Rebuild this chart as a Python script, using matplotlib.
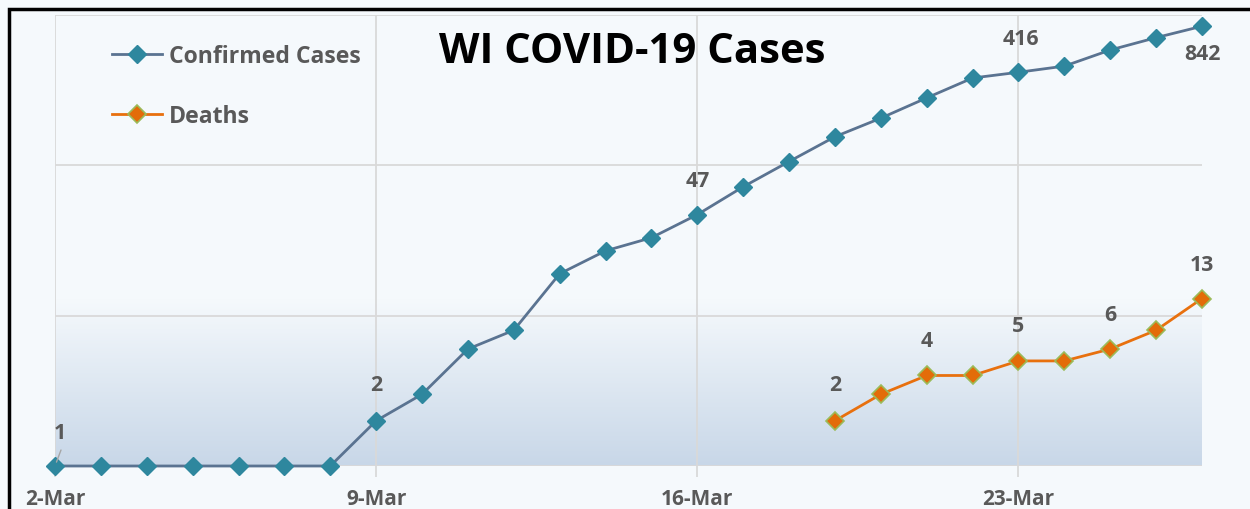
import matplotlib
matplotlib.use("Agg")
import matplotlib.pyplot as plt
import numpy as np
import pandas as pd
from matplotlib.lines import Line2D
from matplotlib.patches import Rectangle
from matplotlib.colors import LinearSegmentedColormap

plt.rcParams['font.family'] = ['Open Sans', 'DejaVu Sans']

# ---- data ----
case_dates = ['2020-03-02', '2020-03-03', '2020-03-04', '2020-03-05', '2020-03-06',
              '2020-03-07', '2020-03-08', '2020-03-09', '2020-03-10', '2020-03-11',
              '2020-03-12', '2020-03-13', '2020-03-14', '2020-03-15', '2020-03-16',
              '2020-03-17', '2020-03-18', '2020-03-19', '2020-03-20', '2020-03-21',
              '2020-03-22', '2020-03-23', '2020-03-24', '2020-03-25', '2020-03-26',
              '2020-03-27']
confirmed = [1, 1, 1, 1, 1, 1, 1, 2, 3, 6, 8, 19, 27, 33, 47, 72, 106, 155,
             206, 281, 381, 416, 457, 585, 707, 842]
death_dates = ['2020-03-19', '2020-03-20', '2020-03-21', '2020-03-22', '2020-03-23',
               '2020-03-24', '2020-03-25', '2020-03-26', '2020-03-27']
deaths = [2, 3, 4, 4, 5, 5, 6, 8, 13]

tick_dates = ['2020-03-02', '2020-03-09', '2020-03-16', '2020-03-23']
tick_labels = ['2-Mar', '9-Mar', '16-Mar', '23-Mar']

# labelled points: (date, value, dx_px, dy_px)
case_labels = [('2020-03-09', 2, 0, 36), ('2020-03-16', 47, 0, 34),
               ('2020-03-23', 416, 2, 34), ('2020-03-27', 842, 0, -27)]
death_labels = [('2020-03-19', 2, 0, 36), ('2020-03-21', 4, 0, 35),
                ('2020-03-23', 5, 0, 35), ('2020-03-25', 6, 0, 35),
                ('2020-03-27', 13, 0, 34)]

BG = '#F5F9FC'
GRID = '#D9D9D9'
TXT = '#595959'
CASE_LINE = '#5A7391'
CASE_MK = '#2E879E'
DEATH_LINE = '#E8700E'
DEATH_MK = '#E36C09'
DEATH_EDGE = '#9BBB59'

fig = plt.figure(figsize=(12.5, 5.1), dpi=100, facecolor=BG)
ax = fig.add_axes([55/1250, 43/510, (1202-55)/1250, 451/510])
ax.set_facecolor(BG)

cd = pd.to_datetime(case_dates)
dd = pd.to_datetime(death_dates)

ax.set_yscale('log')
ax.set_ylim(1, 1000)
ax.set_xlim(cd[0], cd[-1])

# gradient in the lowest band
grad = np.linspace(0, 1, 256).reshape(-1, 1)
cmap = LinearSegmentedColormap.from_list('g', ['#C8D7E8', BG])
ax.imshow(grad, cmap=cmap, aspect='auto', extent=[0, 1, 0, 0.37],
          transform=ax.transAxes, origin='lower', zorder=0)

# grid
for v in [1, 10, 100, 1000]:
    ax.axhline(v, color=GRID, lw=1.3, zorder=1)
for t in tick_dates:
    ax.axvline(pd.to_datetime(t), color=GRID, lw=1.3, zorder=1)

for s in ax.spines.values():
    s.set_visible(False)

ax.set_xticks(pd.to_datetime(tick_dates))
ax.set_xticklabels(tick_labels)
ax.tick_params(axis='x', length=8, color=GRID, width=1.3, pad=8,
               labelsize=15, labelcolor=TXT)
for lab in ax.get_xticklabels():
    lab.set_fontweight('bold')
ax.set_yticks([])
ax.set_yticks([], minor=True)

ax.plot(cd, confirmed, color=CASE_LINE, lw=2, marker='D', ms=8.8,
        mfc=CASE_MK, mec=CASE_MK, zorder=3, clip_on=False)
ax.plot(dd, deaths, color=DEATH_LINE, lw=2, marker='D', ms=9.3,
        mfc=DEATH_MK, mec=DEATH_EDGE, mew=1.2, zorder=3, clip_on=False)

for d, v, dx, dy in case_labels + death_labels:
    ax.annotate(str(v), (pd.to_datetime(d), v), xytext=(dx, dy),
                textcoords='offset pixels', ha='center', va='center',
                fontsize=15.3, fontweight='bold', color=TXT, zorder=4)

# label "1" with leader line
ax.annotate('1', (cd[0], confirmed[0]), xytext=(5, 33),
            textcoords='offset pixels', ha='center', va='center',
            fontsize=15.3, fontweight='bold', color=TXT, zorder=4)
ax.annotate('', (cd[0], confirmed[0]), xytext=(6, 16),
            textcoords='offset pixels',
            arrowprops=dict(arrowstyle='-', color='#A6A6A6', lw=1,
                            shrinkA=0, shrinkB=3), zorder=4)

# legend
h1 = Line2D([], [], color=CASE_LINE, lw=2, marker='D', ms=8.8, mfc=CASE_MK, mec=CASE_MK)
h2 = Line2D([], [], color=DEATH_LINE, lw=2, marker='D', ms=9.3, mfc=DEATH_MK,
            mec=DEATH_EDGE, mew=1.2)
leg = fig.legend([h1, h2], ['Confirmed Cases', 'Deaths'], loc='upper left',
                 bbox_to_anchor=(91/1250, 1 - 24/510), frameon=False,
                 prop={'weight': 'bold', 'size': 16.6}, handlelength=2.17,
                 labelspacing=1.58, handletextpad=0.3, labelcolor=TXT)

fig.text(632/1250, 1 - 63/510, 'WI COVID-19 Cases', ha='center', va='baseline',
         fontsize=30.2, fontweight='bold', color='black')

# black frame
fig.patches.append(Rectangle((9/1250, -0.1), 1.2, 1 - 10/510 + 0.1,
                             transform=fig.transFigure, fill=False,
                             edgecolor='black', lw=2.5, zorder=10))

fig.savefig('out.png', dpi=100, facecolor=BG)
